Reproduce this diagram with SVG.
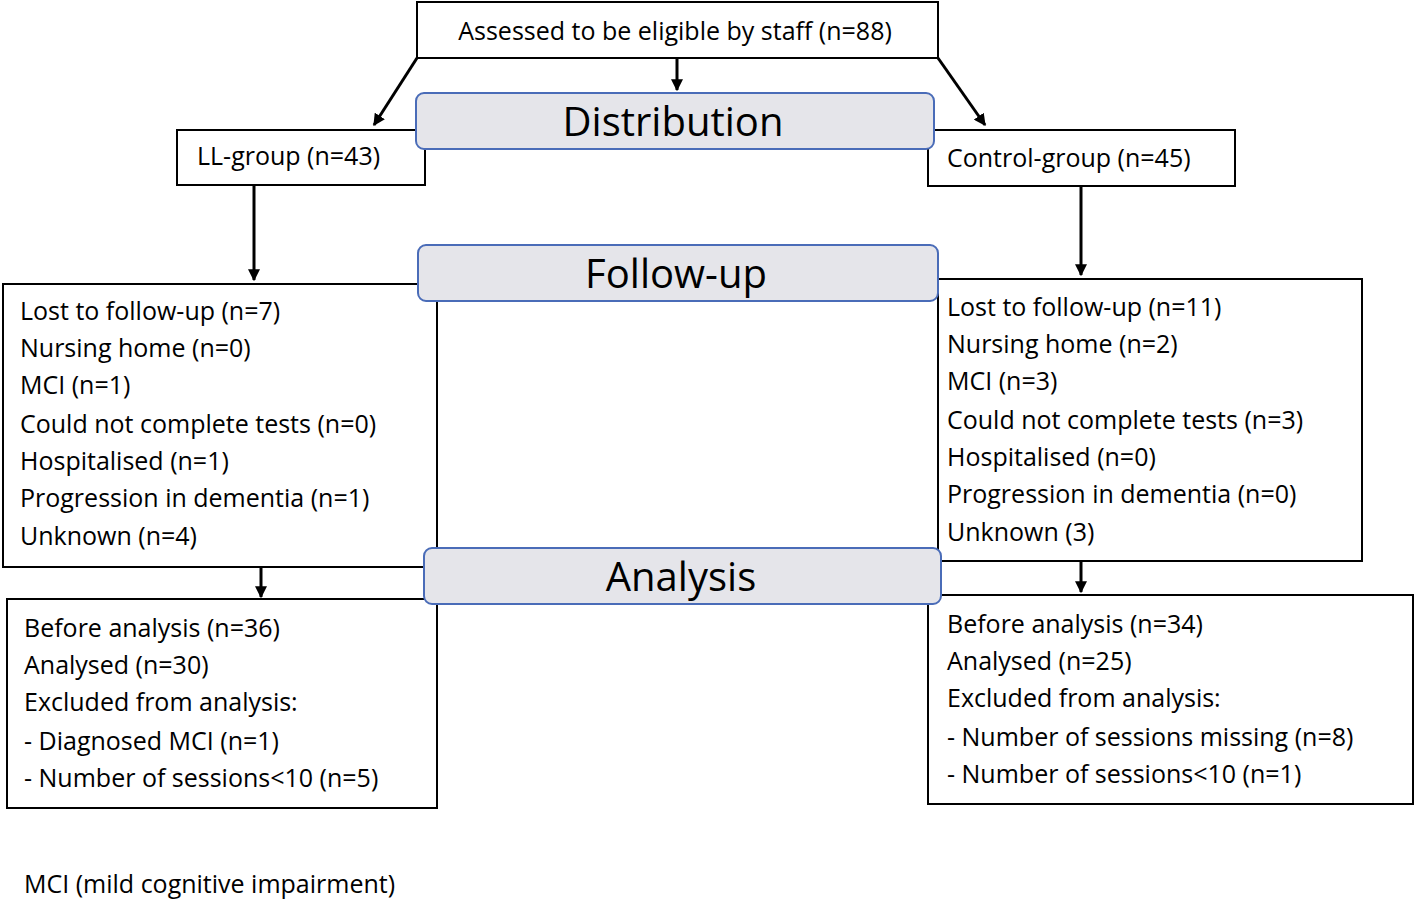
<svg xmlns="http://www.w3.org/2000/svg" width="1416" height="903" viewBox="0 0 1416 903">
<defs>
<style>
.b{fill:#fff;stroke:#000;stroke-width:2}
.ban{fill:#e5e5ea;stroke:#4a6cb8;stroke-width:2}
text{font-family:"Open Sans","Liberation Sans",sans-serif;font-size:25px;fill:#000}
.h{font-size:40px;text-anchor:middle}
.c{stroke:#000;stroke-width:3;fill:none;marker-end:url(#a)}
</style>
<marker id="a" viewBox="0 0 10 10" refX="9" refY="5" markerWidth="4" markerHeight="4" orient="auto"><path d="M0,0L10,5L0,10z" fill="#000"/></marker>
</defs>
<rect width="1416" height="903" fill="#fff"/>
<g id="connectors">
<line class="c" x1="417" y1="58" x2="374" y2="125"/>
<line class="c" x1="677" y1="58" x2="677" y2="90"/>
<line class="c" x1="938" y1="58" x2="985" y2="125"/>
<line class="c" x1="254" y1="185" x2="254" y2="280"/>
<line class="c" x1="1081" y1="186" x2="1081" y2="275"/>
<line class="c" x1="261" y1="567" x2="261" y2="597"/>
<line class="c" x1="1081" y1="561" x2="1081" y2="592"/>
</g>
<g id="top"><rect class="b" x="417" y="2" width="521" height="56"/><text x="675" y="40" text-anchor="middle">Assessed to be eligible by staff (n=88)</text></g>
<g id="ll"><rect class="b" x="177" y="130" width="248" height="55"/><text x="197" y="165">LL-group (n=43)</text></g>
<g id="ctrl"><rect class="b" x="928" y="130" width="307" height="56"/><text x="947" y="167">Control-group (n=45)</text></g>
<g id="llfu"><rect class="b" x="3" y="284" width="434" height="283"/>
<text x="20" y="320">Lost to follow-up (n=7)</text><text x="20" y="357">Nursing home (n=0)</text><text x="20" y="394">MCI (n=1)</text><text x="20" y="433">Could not complete tests (n=0)</text><text x="20" y="470">Hospitalised (n=1)</text><text x="20" y="507">Progression in dementia (n=1)</text><text x="20" y="545">Unknown (n=4)</text></g>
<g id="ctfu"><rect class="b" x="938" y="279" width="424" height="282"/>
<text x="947" y="316">Lost to follow-up (n=11)</text><text x="947" y="353">Nursing home (n=2)</text><text x="947" y="390">MCI (n=3)</text><text x="947" y="429">Could not complete tests (n=3)</text><text x="947" y="466">Hospitalised (n=0)</text><text x="947" y="503">Progression in dementia (n=0)</text><text x="947" y="541">Unknown (3)</text></g>
<g id="llan"><rect class="b" x="7" y="599" width="430" height="209"/>
<text x="24" y="637">Before analysis (n=36)</text><text x="24" y="674">Analysed (n=30)</text><text x="24" y="711">Excluded from analysis:</text><text x="24" y="750">- Diagnosed MCI (n=1)</text><text x="24" y="787">- Number of sessions&lt;10 (n=5)</text></g>
<g id="ctan"><rect class="b" x="928" y="595" width="485" height="209"/>
<text x="947" y="633">Before analysis (n=34)</text><text x="947" y="670">Analysed (n=25)</text><text x="947" y="707">Excluded from analysis:</text><text x="947" y="746">- Number of sessions missing (n=8)</text><text x="947" y="783">- Number of sessions&lt;10 (n=1)</text></g>
<g id="dist"><rect class="ban" x="416" y="93" width="518" height="56" rx="8"/><text class="h" x="673" y="136">Distribution</text></g>
<g id="fu"><rect class="ban" x="418" y="245" width="520" height="56" rx="8"/><text class="h" x="676" y="288">Follow-up</text></g>
<g id="an"><rect class="ban" x="424" y="548" width="517" height="56" rx="8"/><text class="h" x="681" y="591">Analysis</text></g>
<text x="24" y="893">MCI (mild cognitive impairment)</text>
</svg>
